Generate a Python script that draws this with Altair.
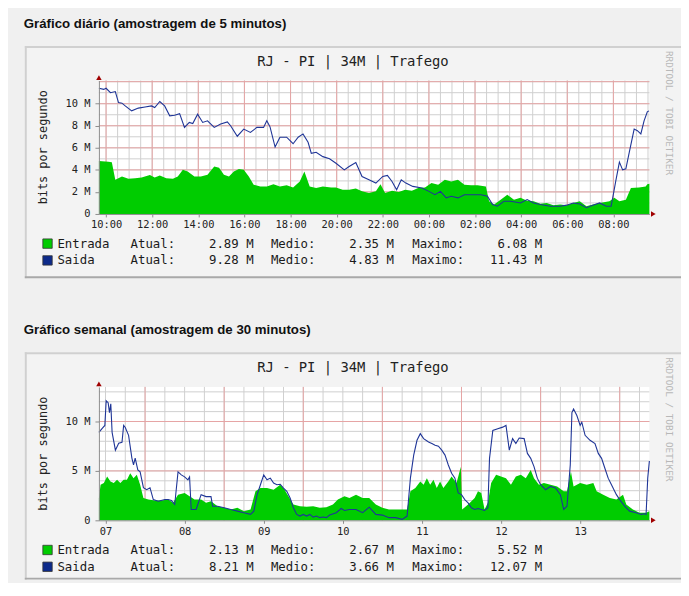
import json
import altair as alt
import pandas as pd

# ---------------- data ----------------
# daily graph (x = clock hour, values in Mbit/s)
day_out_t = [9.69, 9.9, 10.0, 10.19, 10.4, 10.54, 10.69, 10.83, 11.11, 11.4, 11.69, 11.97, 12.11, 12.33, 12.54,
             12.76, 12.97, 13.19, 13.4, 13.61, 13.76, 13.97, 14.19, 14.4, 14.69, 14.97, 15.26, 15.4, 15.69, 15.97,
             16.26, 16.54, 16.83, 16.97, 17.11, 17.33, 17.54, 17.83, 18.11, 18.33, 18.54, 18.76, 18.9, 19.11, 19.4,
             19.69, 19.97, 20.33, 20.54, 20.83, 21.1, 21.4, 21.7, 22.0, 22.2, 22.4, 22.6, 22.8, 23.0, 23.3, 23.7,
             24.0, 24.26, 24.5, 24.75, 24.97, 25.26, 25.54, 25.83, 26.26, 26.54, 26.76, 26.97, 27.26, 27.54, 27.97,
             28.26, 28.54, 28.83, 29.26, 29.69, 29.97, 30.26, 30.54, 30.83, 31.11, 31.4, 31.69, 31.9, 31.97, 32.1,
             32.26, 32.4, 32.54, 32.69, 32.9, 33.04, 33.19, 33.33, 33.47, 33.54]
day_out_v = [11.4, 11.3, 11.4, 11.0, 11.1, 10.1, 10.05, 9.8, 9.35, 9.6, 9.7, 9.8, 9.65, 10.2, 9.8,
             8.9, 8.96, 9.1, 7.85, 8.3, 8.2, 9.05, 8.3, 8.45, 7.85, 8.15, 8.35, 8.0, 7.05, 7.7,
             7.4, 7.85, 7.85, 8.45, 7.9, 6.07, 6.96, 6.96, 6.37, 6.96, 7.26, 6.5, 5.5, 5.6, 5.2,
             5.0, 4.6, 4.0, 4.3, 4.67, 3.4, 3.1, 2.8, 3.4, 3.5, 2.95, 2.2, 3.1, 2.8, 2.5, 2.35,
             2.05, 1.75, 2.05, 1.46, 1.6, 1.46, 1.75, 1.75, 1.75, 1.6, 0.86, 0.7, 1.16, 1.16, 1.0,
             1.3, 1.0, 0.86, 0.7, 0.7, 0.8, 1.0, 0.9, 0.57, 0.8, 1.0, 0.7, 0.7, 1.46, 2.95,
             4.7, 4.0, 4.1, 5.6, 7.7, 7.55, 7.26, 8.45, 9.26, 9.35]
day_in_t = [9.69, 10.1, 10.25, 10.4, 10.69, 10.97, 11.26, 11.54, 11.9, 12.11, 12.33, 12.61, 12.9, 13.11, 13.33,
            13.54, 13.83, 14.11, 14.4, 14.69, 14.9, 15.11, 15.33, 15.54, 15.76, 15.97, 16.19, 16.4, 16.69, 16.97,
            17.26, 17.54, 17.83, 18.11, 18.4, 18.6, 18.83, 19.11, 19.4, 19.76, 19.97, 20.26, 20.54, 20.83, 21.1,
            21.4, 21.7, 21.9, 22.1, 22.4, 22.69, 22.97, 23.26, 23.54, 23.83, 24.11, 24.4, 24.69, 24.97, 25.26,
            25.54, 25.83, 26.11, 26.47, 26.61, 26.83, 27.11, 27.4, 27.69, 27.97, 28.26, 28.54, 28.83, 29.11, 29.4,
            29.69, 29.97, 30.26, 30.54, 30.83, 31.11, 31.4, 31.83, 32.04, 32.26, 32.54, 32.76, 33.11, 33.4, 33.47,
            33.56]
day_in_v = [4.8, 4.73, 4.7, 3.1, 3.4, 3.2, 3.25, 3.3, 3.54, 3.3, 3.5, 3.25, 3.2, 3.4, 4.0,
            3.85, 3.4, 3.4, 3.55, 4.3, 4.2, 3.55, 3.4, 3.85, 4.08, 4.0, 3.4, 2.65, 2.5, 2.5,
            2.7, 2.5, 2.6, 2.4, 2.95, 3.85, 2.5, 2.35, 2.5, 2.4, 2.4, 2.2, 2.2, 2.3, 2.05,
            1.9, 2.05, 2.7, 1.9, 2.1, 2.0, 2.2, 2.1, 2.35, 2.4, 2.8, 2.65, 3.1, 2.95, 3.1,
            2.65, 2.6, 2.6, 2.5, 1.16, 0.86, 1.3, 1.75, 1.3, 1.46, 1.2, 1.16, 0.92, 1.0, 0.8,
            0.86, 0.8, 1.0, 1.16, 0.7, 0.86, 1.0, 1.16, 1.46, 1.16, 1.3, 2.35, 2.4, 2.5, 2.7,
            2.75]
day_x_ticks = [10, 12, 14, 16, 18, 20, 22, 24, 26, 28, 30, 32]
day_x_labels = ["10:00", "12:00", "14:00", "16:00", "18:00", "20:00", "22:00", "00:00", "02:00", "04:00",
                "06:00", "08:00"]
day_y_ticks = [0, 2, 4, 6, 8, 10]
day_y_labels = ["0", "2 M", "4 M", "6 M", "8 M", "10 M"]
day_minor_x = [10 + 0.5 * i for i in range(48)]
day_major_x = day_x_ticks
day_minor_y = list(range(1, 13))
day_major_y = [2, 4, 6, 8, 10, 12]
day_atual = [2.89, 9.28]
day_medio = [2.35, 4.83]
day_maximo = [6.08, 11.43]

# weekly graph (x = hours since day 07 00:00)
week_out_t = [10, 11, 11.8, 12.2, 12.8, 13.2, 13.6, 14, 15, 16, 17, 17.5, 18, 19, 20, 20.5, 21, 21.8, 22.5,
              23.5, 24.5, 25.5, 26.5, 28, 30, 31, 32, 33, 34, 35, 36, 37, 37.5, 38, 39.5, 41, 42.5, 44, 44.5,
              46, 48, 50, 52, 54, 56, 57, 58, 59, 60, 61, 62, 63, 64, 65, 66, 67, 68, 69, 70, 71, 72, 73,
              74, 75, 76, 77, 78, 79, 80, 82, 83.5, 84.5, 86, 88, 90, 92, 94, 96, 98, 100, 102, 103.5, 104.5,
              105.5, 106.5, 107.5, 108.5, 110, 111, 112, 113, 114, 115, 116, 117, 118, 119, 120, 121, 122, 123,
              124, 125, 126, 127, 128, 128.5, 129.5, 131, 132.5, 133.5, 134.5, 135.5, 136.5, 137.5, 139, 140,
              141, 142, 143, 144, 145.5, 147, 148.5, 150, 151, 152, 153, 153.5, 154, 155, 156, 156.5, 157.5,
              159, 160.5, 161.5, 162.5, 163.5, 164.5, 165.5, 167, 168, 169.5, 171, 173, 174.5, 175.5, 176,
              176.5, 177]
week_out_v = [8.9, 9.3, 9.6, 12.1, 11.9, 10.9, 11.8, 8.9, 7.1, 7.8, 7.9, 9.6, 9.4, 8.6, 6.3, 5.6, 6.3, 5.1, 4.9,
              3.3, 3.1, 3.3, 2.1, 1.93, 2.1, 2.1, 2.0, 1.6, 4.9, 4.6, 4.4, 4.1, 4.4, 1.1, 1.1, 2.6, 2.4, 2.4, 1.43,
              1.43, 1.27, 1.1, 0.93, 0.77, 0.6, 0.93, 2.6, 3.6, 4.6, 4.1, 4.27, 3.77, 3.6, 3.65, 3.27, 2.93, 2.27,
              1.27, 0.6, 0.43, 0.6, 0.43, 0.6, 0.33, 0.43, 0.27, 0.33, 0.27, 0.53, 0.77, 1.2, 1.0, 1.1, 1.1, 0.77,
              1.33, 0.6, 0.53, 0.27, 0.27, 0.1, 0.43, 4.27, 6.6, 8.1, 8.77, 8.27, 7.93, 7.77, 7.6, 7.5, 7.1, 6.6,
              5.6, 4.77, 4.27, 2.77, 2.6, 2.1, 1.77, 1.27, 1.1, 1.2, 1.1, 1.0, 1.27, 6.27, 9.1, 9.27, 9.43, 9.6,
              7.1, 8.27, 7.77, 8.33, 8.27, 6.77, 6.27, 5.43, 4.27, 3.6, 3.1, 3.43, 3.27, 2.6, 1.1, 1.43, 5.6,
              10.9, 11.27, 10.6, 9.6, 9.93, 8.6, 8.1, 7.77, 6.77, 6.27, 5.27, 4.27, 3.6, 2.6, 2.1, 1.43, 0.93,
              0.77, 0.6, 0.67, 0.6, 4.27, 6.0]
week_in_t = [10, 10.5, 11.5, 12.5, 13.5, 14.5, 15.5, 16.5, 17.5, 18.5, 19.5, 20.5, 21.5, 22.5, 23.5, 25, 27, 29,
             31, 32.5, 34, 36, 37.5, 39, 41, 42.5, 44, 46, 48, 50, 52, 54, 56, 57.5, 59, 61, 63, 65, 66, 67.5,
             69, 71, 73, 75, 77, 79, 81, 82.5, 84.5, 86, 88, 90, 92, 93, 94, 96, 98, 102, 103.5, 104.5, 106,
             107.5, 108.5, 109.5, 110.5, 111.5, 112.5, 113.5, 114.5, 116, 117, 118.5, 119.8, 120.2, 122, 124,
             125, 126, 127, 128, 129, 130.5, 132, 133.5, 135, 136.5, 138, 139.5, 141, 142, 143.5, 145, 147,
             149, 151, 152, 153.2, 154, 156, 158, 160, 161, 163, 165, 167, 169, 170, 172, 174, 176, 177]
week_in_v = [2.27, 3.6, 3.77, 4.43, 3.93, 3.77, 4.1, 3.77, 4.1, 4.1, 4.77, 4.27, 4.6, 3.6, 2.27, 2.1, 2.0, 2.0,
             2.1, 1.77, 2.6, 2.77, 2.43, 2.1, 2.1, 1.77, 1.93, 1.43, 1.27, 1.1, 1.27, 0.93, 1.1, 2.93, 3.27,
             3.27, 3.1, 3.6, 3.27, 2.43, 1.6, 1.43, 1.37, 1.43, 1.27, 1.33, 1.6, 2.1, 2.43, 2.27, 2.6, 2.27,
             2.27, 1.93, 1.6, 1.27, 1.1, 1.1, 1.1, 2.93, 3.27, 3.93, 3.6, 4.27, 3.6, 4.1, 3.27, 3.93, 3.27,
             3.93, 4.43, 3.77, 5.43, 1.1, 1.6, 2.27, 2.93, 2.77, 1.1, 1.77, 3.77, 4.6, 4.43, 4.27, 3.6, 4.43,
             4.6, 4.27, 5.1, 4.27, 3.6, 3.77, 3.6, 3.43, 2.93, 2.93, 4.93, 3.43, 3.77, 3.6, 3.77, 2.93, 2.6,
             2.27, 2.1, 2.6, 1.6, 1.1, 0.77, 0.77, 0.93]
week_x_ticks = [12, 36, 60, 84, 108, 132, 156]
week_x_labels = ["07", "08", "09", "10", "11", "12", "13"]
week_y_ticks = [0, 5, 10]
week_y_labels = ["0", "5 M", "10 M"]
week_minor_x = [12 + 6 * i for i in range(28)]
week_major_x = [24, 48, 72, 96, 120, 144, 168]
week_minor_y = list(range(1, 14))
week_major_y = [5, 10]
week_atual = [2.13, 8.21]
week_medio = [2.67, 3.66]
week_maximo = [5.52, 12.07]

series_names = ["Entrada", "Saida"]
series_colors = ["#00cc00", "#0d2a8a"]

# ---------------- styling ----------------
MONO = "DejaVu Sans Mono"
SECTION_FONT = "'Liberation Sans Narrow', 'Liberation Sans', sans-serif"
W, H = 557, 135
GREEN = "#00cc00"
BLUE = "#1f3597"
MAJOR = "#e6a4a4"
MINOR = "#cfcfcf"
one = pd.DataFrame({"k": [0]})


def txt(s, x, y, size=12.5, align="left", baseline="middle", font=MONO, color="#1a1a1a", angle=0,
        weight="normal"):
    kw = dict(align=align, baseline=baseline, font=font, fontSize=size, color=color, fontWeight=weight)
    if angle:
        kw["angle"] = angle
    return alt.Chart(one).mark_text(**kw).encode(x=alt.value(x), y=alt.value(y), text=alt.value(s))


def rect(x, x2, y, y2, color):
    return alt.Chart(one).mark_rect(fill=color, strokeWidth=0).encode(
        x=alt.value(x), x2=alt.value(x2), y=alt.value(y), y2=alt.value(y2))


def label_expr(values, labels):
    return f"{json.dumps(labels)}[indexof({json.dumps(values)}, datum.value)]"


def panel(section, xdom, ydom, xt, xl, yt, yl, minor_x, major_x, minor_y, major_y,
          in_t, in_v, out_t, out_v, atual, medio, maximo, box_bottom, page=False):
    xs = alt.Scale(domain=xdom, nice=False, zero=False)
    ys = alt.Scale(domain=ydom, nice=False, zero=True)
    xaxis = alt.Axis(values=xt, labelExpr=label_expr(xt, xl), grid=False, title=None, zindex=2,
                     domainColor="#8c8c8c", tickColor="#8c8c8c", tickSize=3, labelFont=MONO,
                     labelFontSize=10.5, labelColor="#222222", labelPadding=3, labelFlush=False,
                     labelOverlap=False)
    yaxis = alt.Axis(values=yt, labelExpr=label_expr(yt, yl), grid=False, title=None, zindex=2,
                     domainColor="#8c8c8c", tickColor="#8c8c8c", tickSize=4, labelFont=MONO,
                     labelFontSize=10.5, labelColor="#222222", labelPadding=5, labelOverlap=False)

    def X(f):
        return alt.X(f, scale=xs, axis=xaxis)

    def Y(f):
        return alt.Y(f, scale=ys, axis=yaxis)

    L = []
    if page:
        L.append(rect(-92, 589, -70, 505, "#f0f0f0"))
    # rrdtool image frame
    L.append(rect(-75, 589, -35, box_bottom, "#f3f3f3"))
    L.append(rect(-75, 589, -35, -33, "#d0d0d0"))
    L.append(rect(-75, -73, -35, box_bottom, "#d0d0d0"))
    L.append(rect(-75, 589, box_bottom - 2, box_bottom, "#a9a9a9"))
    # white canvas
    cv = pd.DataFrame({"x0": [xdom[0]], "x1": [xdom[1]], "y0": [ydom[0]], "y1": [ydom[1]]})
    L.append(alt.Chart(cv).mark_rect(fill="white", strokeWidth=0).encode(
        x=X("x0:Q"), x2="x1", y=Y("y0:Q"), y2="y1"))
    # grid
    for vals, col, ch, key in [(minor_x, MINOR, "x", "mx"), (minor_y, MINOR, "y", "my"),
                               (major_x, MAJOR, "x", "Mx"), (major_y, MAJOR, "y", "My")]:
        d = pd.DataFrame({key: vals})
        enc = dict(x=X(f"{key}:Q")) if ch == "x" else dict(y=Y(f"{key}:Q"))
        L.append(alt.Chart(d).mark_rule(color=col, strokeWidth=1, opacity=1).encode(**enc))
    # data
    din = pd.DataFrame({"t": in_t, "v": in_v})
    dout = pd.DataFrame({"t": out_t, "v": out_v})
    L.append(alt.Chart(din).mark_area(fill=GREEN, opacity=1, strokeWidth=0).encode(x=X("t:Q"), y=Y("v:Q")))
    L.append(alt.Chart(dout).mark_line(color=BLUE, strokeWidth=1.1).encode(x=X("t:Q"), y=Y("v:Q")))
    # axis arrows
    ax = pd.DataFrame({"x": [xdom[1]], "y": [0]})
    L.append(alt.Chart(ax).mark_point(shape="triangle-right", filled=True, size=30, color="#a00000",
                                      opacity=1, xOffset=4).encode(x=X("x:Q"), y=Y("y:Q")))
    ay = pd.DataFrame({"x": [xdom[0]], "y": [ydom[1]]})
    L.append(alt.Chart(ay).mark_point(shape="triangle-up", filled=True, size=30, color="#a00000",
                                      opacity=1, yOffset=-3).encode(x=X("x:Q"), y=Y("y:Q")))
    # texts
    L.append(txt(section, -76, -53.5, size=13.4, font=SECTION_FONT, weight="bold", baseline="alphabetic",
                 color="#111111"))
    L.append(txt("RJ - PI | 34M | Trafego", 257, -15, size=14, align="center", baseline="alphabetic",
                 color="#222222"))
    L.append(txt("bits por segundo", -57, 67.5, size=12, align="center", angle=270, color="#222222"))
    L.append(txt("RRDTOOL / TOBI OETIKER", 577, -30, size=9.5, angle=90, color="#b8b8b8"))
    # legend
    for i in range(2):
        y = 165 + 17 * i
        L.append(alt.Chart(one).mark_square(size=90, filled=True, fill=series_colors[i], stroke="#333333",
                                            strokeWidth=0.8, opacity=1).encode(
            x=alt.value(-52), y=alt.value(y)))
        L.append(txt(series_names[i], -42, y))
        L.append(txt("Atual:", 32, y))
        L.append(txt(f"{atual[i]:.2f} M", 156.5, y, align="right"))
        L.append(txt("Medio:", 174, y))
        L.append(txt(f"{medio[i]:.2f} M", 298.5, y, align="right"))
        L.append(txt("Maximo:", 317, y))
        L.append(txt(f"{maximo[i]:.2f} M", 448.5, y, align="right"))
    return alt.layer(*L).properties(width=W, height=H)


p1 = panel("Gráfico diário (amostragem de 5 minutos)", [9.69, 33.56], [0, 12.1],
           day_x_ticks, day_x_labels, day_y_ticks, day_y_labels,
           day_minor_x, day_major_x, day_minor_y, day_major_y,
           day_in_t, day_in_v, day_out_t, day_out_v, day_atual, day_medio, day_maximo, 200, page=True)
p2 = panel("Gráfico semanal (amostragem de 30 minutos)", [10, 177], [0, 13.5],
           week_x_ticks, week_x_labels, week_y_ticks, week_y_labels,
           week_minor_x, week_major_x, week_minor_y, week_major_y,
           week_in_t, week_in_v, week_out_t, week_out_v, week_atual, week_medio, week_maximo, 195)

chart = alt.vconcat(p1, p2, spacing=175, bounds="flush", padding=0,
                    background="#f0f0f0").configure_view(strokeWidth=0)

chart.save("out.html", embed_options={"renderer": "svg", "actions": False})
